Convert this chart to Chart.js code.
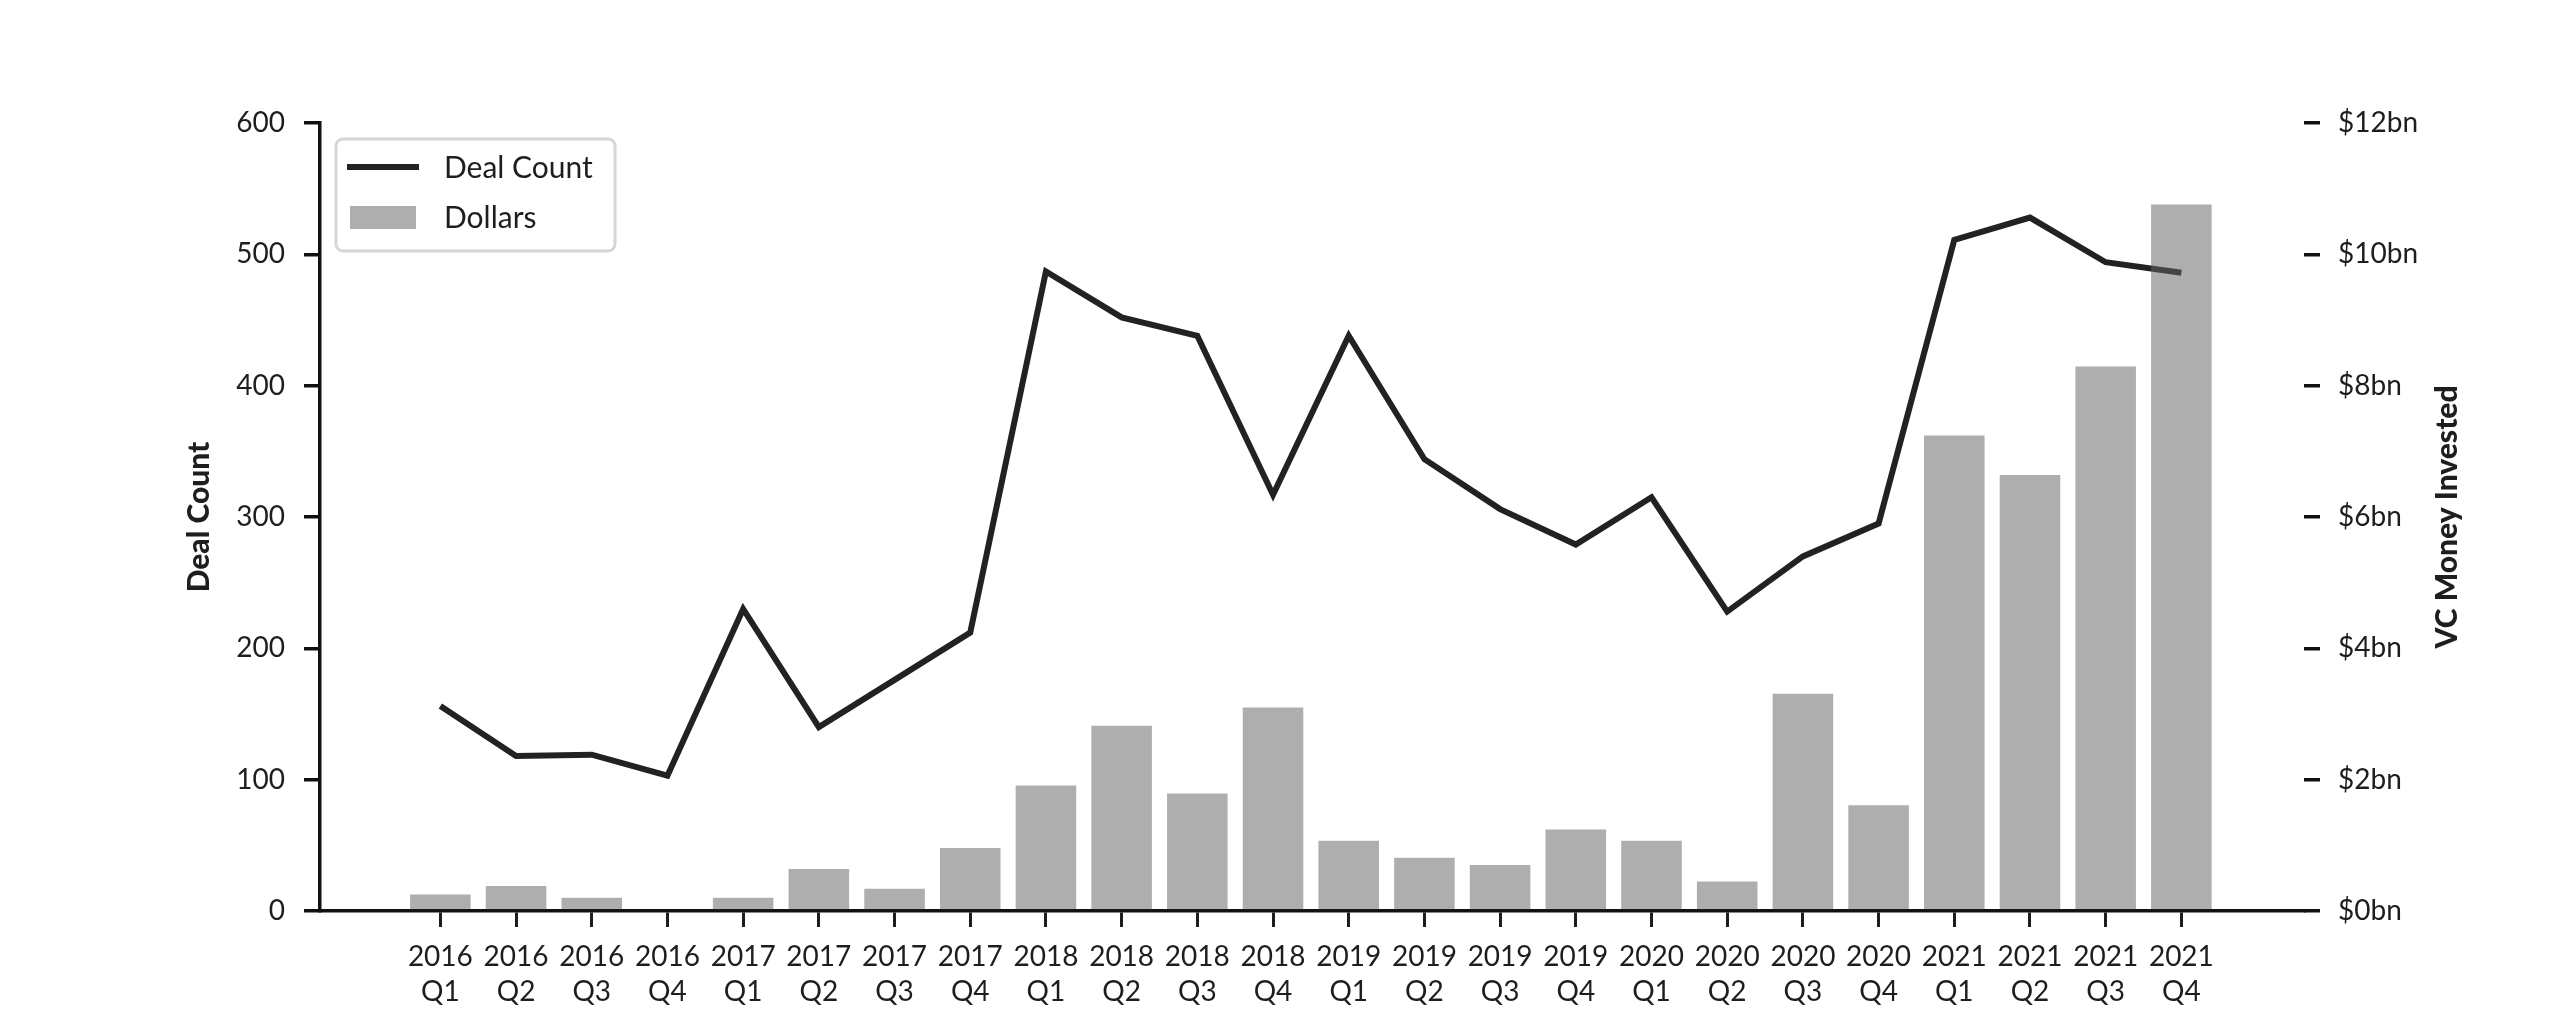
<!DOCTYPE html>
<html>
<head>
<meta charset="utf-8">
<script src="https://cdn.jsdelivr.net/npm/chart.js@4/dist/chart.umd.min.js"></script>
<style>
  html, body { margin: 0; padding: 0; background: #ffffff; }
  canvas { display: block; }
</style>
</head>
<body>
<canvas id="c" width="2560" height="1024" style="width:2560px;height:1024px"></canvas>
<script>
// ---- Data ----
const quarters = ['2016 Q1','2016 Q2','2016 Q3','2016 Q4','2017 Q1','2017 Q2','2017 Q3','2017 Q4',
                  '2018 Q1','2018 Q2','2018 Q3','2018 Q4','2019 Q1','2019 Q2','2019 Q3','2019 Q4',
                  '2020 Q1','2020 Q2','2020 Q3','2020 Q4','2021 Q1','2021 Q2','2021 Q3','2021 Q4'];
const dealCount = [156, 118, 119, 103, 230, 140, 176, 212, 487, 452, 438, 317,
                   438, 344, 306, 279, 315, 228, 270, 295, 511, 528, 494, 486];
const dollarsBn = [0.25, 0.38, 0.20, 0, 0.20, 0.64, 0.34, 0.96, 1.91, 2.82, 1.79, 3.10,
                   1.07, 0.81, 0.70, 1.24, 1.07, 0.45, 3.31, 1.61, 7.24, 6.64, 8.29, 10.76];
const leftTicks = [0, 100, 200, 300, 400, 500, 600];
const rightTicksBn = [0, 2, 4, 6, 8, 10, 12];
const seriesNames = ['Deal Count', 'Dollars'];
const axisTitles = ['Deal Count', 'VC Money Invested'];

// ---- Styles ----
const FONT = 'Lato, "Open Sans", sans-serif';
const INK = '#1e1e1e';
const LINE_COLOR = '#222222';
const BAR_COLOR = 'rgba(100,100,100,0.52)';

const legendAndTitlePlugin = {
  id: 'legendAndTitle',
  afterDraw(chart) {
    const ctx = chart.ctx;
    const ca = chart.chartArea;
    // Right axis title (reads bottom to top)
    ctx.save();
    ctx.translate(2447, (ca.top + ca.bottom) / 2);
    ctx.rotate(-Math.PI / 2);
    ctx.font = '900 30px ' + FONT;
    ctx.fillStyle = INK;
    ctx.textAlign = 'center';
    ctx.textBaseline = 'middle';
    ctx.fillText(axisTitles[1], 0, 0);
    ctx.restore();

    // Legend box
    const lx = ca.left + 16, ly = ca.top + 16, lw = 279, lh = 112, r = 7;
    ctx.save();
    ctx.beginPath();
    ctx.moveTo(lx + r, ly);
    ctx.arcTo(lx + lw, ly, lx + lw, ly + lh, r);
    ctx.arcTo(lx + lw, ly + lh, lx, ly + lh, r);
    ctx.arcTo(lx, ly + lh, lx, ly, r);
    ctx.arcTo(lx, ly, lx + lw, ly, r);
    ctx.closePath();
    ctx.fillStyle = 'rgba(255,255,255,0.85)';
    ctx.fill();
    ctx.lineWidth = 3;
    ctx.strokeStyle = '#d6d6d6';
    ctx.stroke();

    const ds = chart.data.datasets;
    ctx.font = '30px ' + FONT;
    ctx.textBaseline = 'middle';
    ctx.textAlign = 'left';
    // Line item
    ctx.beginPath();
    ctx.moveTo(lx + 11, ly + 28);
    ctx.lineTo(lx + 83, ly + 28);
    ctx.lineWidth = 6;
    ctx.strokeStyle = ds[0].borderColor;
    ctx.stroke();
    ctx.fillStyle = INK;
    ctx.fillText(ds[0].label, lx + 108, ly + 29);
    // Bar item
    ctx.fillStyle = ds[1].backgroundColor;
    ctx.fillRect(lx + 14, ly + 67, 66, 23);
    ctx.fillStyle = INK;
    ctx.fillText(ds[1].label, lx + 108, ly + 79);
    ctx.restore();
  }
};

const chart = new Chart(document.getElementById('c'), {
  data: {
    datasets: [
      {
        type: 'line',
        label: seriesNames[0],
        data: dealCount.map((v, i) => ({ x: i, y: v })),
        yAxisID: 'y',
        borderColor: LINE_COLOR,
        backgroundColor: LINE_COLOR,
        borderWidth: 6,
        pointRadius: 0,
        tension: 0,
        order: 2
      },
      {
        type: 'bar',
        label: seriesNames[1],
        data: dollarsBn.map((v, i) => ({ x: i, y: v })),
        yAxisID: 'y1',
        backgroundColor: BAR_COLOR,
        borderWidth: 0,
        barPercentage: 0.8,
        categoryPercentage: 1.0,
        order: 1
      }
    ]
  },
  options: {
    responsive: false,
    animation: false,
    devicePixelRatio: 1,
    layout: { padding: { top: 123, left: 0, right: 0, bottom: 0 } },
    plugins: { legend: { display: false }, tooltip: { enabled: false } },
    scales: {
      x: {
        type: 'linear',
        offset: false,
        min: -1.59,
        max: 24.62,
        afterBuildTicks(scale) { scale.ticks = quarters.map((_, i) => ({ value: i })); },
        afterFit(scale) { scale.height = 113; },
        ticks: {
          autoSkip: false,
          maxRotation: 0,
          padding: 12,
          color: INK,
          font: { family: FONT, size: 28, lineHeight: 1.25 },
          callback(v) { const s = quarters[v]; return s ? s.split(' ') : ''; }
        },
        grid: { offset: false, drawOnChartArea: false, drawTicks: true, tickLength: 16, lineWidth: 3, color: INK },
        border: { display: true, width: 3.5, color: '#111' }
      },
      y: {
        type: 'linear',
        position: 'left',
        min: 0,
        max: 600,
        afterBuildTicks(scale) { scale.ticks = leftTicks.map(v => ({ value: v })); },
        afterFit(scale) { scale.width = 320; },
        ticks: { padding: 19, color: INK, font: { family: FONT, size: 28 } },
        grid: { drawOnChartArea: false, drawTicks: true, tickLength: 16, lineWidth: 3.5, color: '#111' },
        border: { display: true, width: 3.5, color: '#111' },
        title: {
          display: true,
          text: axisTitles[0],
          color: INK,
          font: { family: FONT, size: 30, weight: '900', lineHeight: 1.2 },
          padding: { top: 181, bottom: 0 }
        }
      },
      y1: {
        type: 'linear',
        position: 'right',
        min: 0,
        max: 12,
        afterBuildTicks(scale) { scale.ticks = rightTicksBn.map(v => ({ value: v })); },
        afterFit(scale) { scale.width = 256; },
        ticks: {
          padding: 18, color: INK, font: { family: FONT, size: 28 },
          callback(v) { return '$' + v + 'bn'; }
        },
        grid: { drawOnChartArea: false, drawTicks: true, tickLength: 16, lineWidth: 3.5, color: '#111' },
        border: { display: false }
      }
    }
  },
  plugins: [legendAndTitlePlugin]
});
</script>
</body>
</html>
